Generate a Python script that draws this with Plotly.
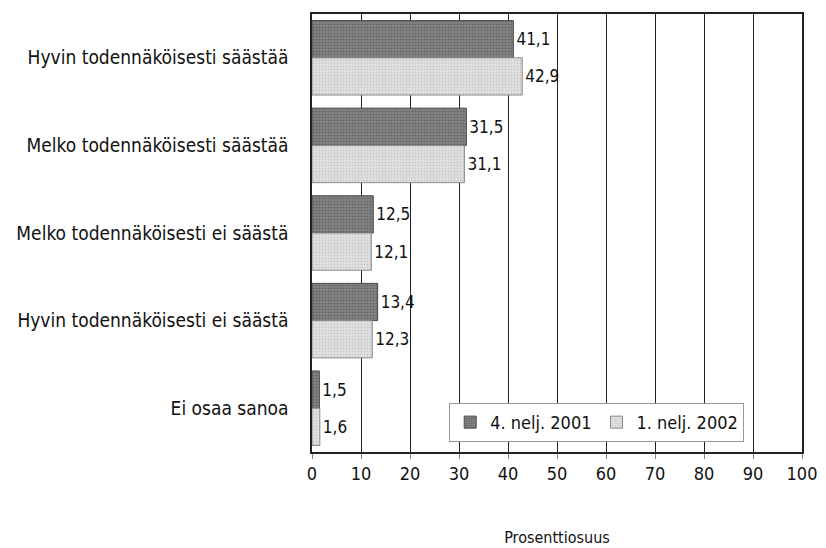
import plotly.graph_objects as go

categories = ["Hyvin todennäköisesti säästää", "Melko todennäköisesti säästää",
              "Melko todennäköisesti ei säästä", "Hyvin todennäköisesti ei säästä", "Ei osaa sanoa"]
series_names = ["4. nelj. 2001", "1. nelj. 2002"]
values_2001 = [41.1, 31.5, 12.5, 13.4, 1.5]
values_2002 = [42.9, 31.1, 12.1, 12.3, 1.6]
x_ticks = [0, 10, 20, 30, 40, 50, 60, 70, 80, 90, 100]

FONT = "DejaVu Sans Condensed, Liberation Sans Narrow, sans-serif"

fig = go.Figure()
fig.add_trace(go.Bar(
    y=categories, x=values_2001, name=series_names[0], orientation="h",
    marker=dict(color="#858585", line=dict(color="#4a4a4a", width=1),
                pattern=dict(shape=".", fgcolor="#444444", size=3, solidity=0.4)),
    texttemplate="%{x:.1f}", textposition="outside", cliponaxis=False,
    textfont=dict(size=17, color="#111111", family=FONT),
))
fig.add_trace(go.Bar(
    y=categories, x=values_2002, name=series_names[1], orientation="h",
    marker=dict(color="#e2e2e2", line=dict(color="#888888", width=1),
                pattern=dict(shape=".", fgcolor="#aaaaaa", size=3, solidity=0.3)),
    texttemplate="%{x:.1f}", textposition="outside", cliponaxis=False,
    textfont=dict(size=17, color="#111111", family=FONT),
))

fig.update_layout(
    width=818, height=540,
    margin=dict(l=304, r=24, t=6, b=96, autoexpand=False),
    paper_bgcolor="white", plot_bgcolor="white",
    separators=", ",
    barmode="group", bargap=0.15, bargroupgap=0.0,
    font=dict(family=FONT, size=17, color="#111111"),
    showlegend=True,
    legend=dict(orientation="h", x=0.28, y=0.023, xanchor="left", yanchor="bottom",
                bgcolor="white", bordercolor="#999999", borderwidth=1,
                font=dict(size=18, family=FONT), traceorder="normal",
                itemwidth=30),
)
fig.update_xaxes(
    range=[0, 100], tickvals=x_ticks, ticktext=[str(t) for t in x_ticks],
    showgrid=True, gridcolor="#222222", gridwidth=1,
    showline=True, linecolor="#222222", linewidth=1.5, mirror=True,
    ticks="outside", ticklen=5, tickcolor="#888888",
    tickfont=dict(size=18, family=FONT), zeroline=False,
    title=dict(text="Prosenttiosuus", font=dict(size=16, family=FONT), standoff=48),
)
fig.update_yaxes(
    autorange="reversed", showline=True, linecolor="#222222", linewidth=1.5, mirror=True,
    ticks="", ticklabelstandoff=18, tickfont=dict(size=19, family=FONT),
)

fig.write_html("out.html")
